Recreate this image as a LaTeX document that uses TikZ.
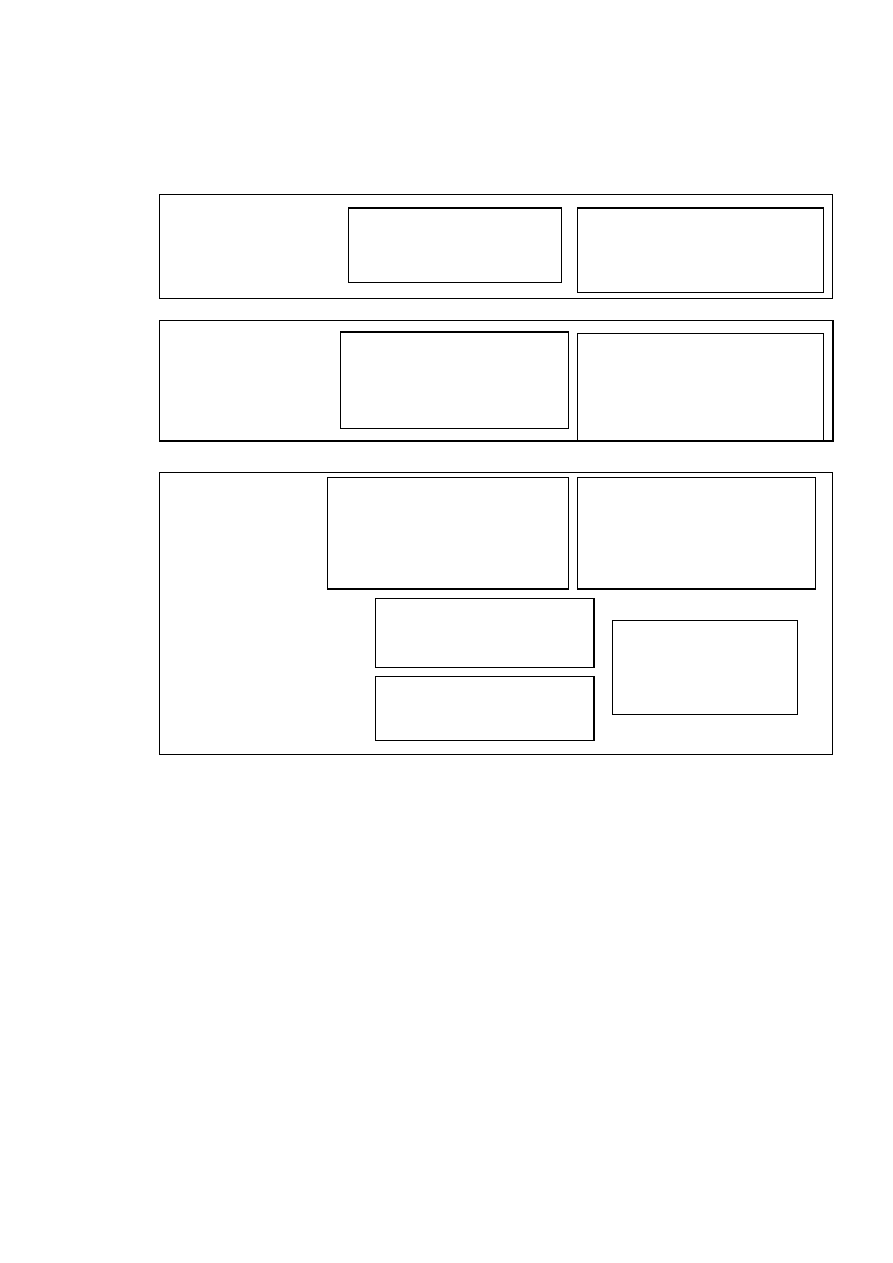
\documentclass[tikz,border=0pt]{standalone}
\begin{document}
\begin{tikzpicture}[x=1pt,y=-1pt,
  box/.style={draw=black,line width=1pt,rectangle,inner sep=0pt,anchor=north west},
  heavy/.style={draw=black,line width=2.2pt}]
\useasboundingbox[fill=white] (0,0) rectangle (893,1263);
\newcommand{\bx}[5]{\node[box,minimum width={#4-#2},minimum height={#5-#3}] (#1) at (#2,#3) {};}
% group 1
\bx{g1}{159}{194}{832}{298}
\bx{a1}{348}{208}{561}{282}
\bx{b1}{577}{208}{823}{292}
\draw[heavy] (a1.north west) -- (a1.north east);
\draw[heavy] (b1.north west) -- (b1.north east);
% group 2
\bx{g2}{159}{320}{832}{440}
\bx{a2}{340}{332}{568}{428}
\bx{b2}{577}{333}{823}{440}
\draw[heavy] (g2.south west) -- (g2.south east) -- (g2.north east);
\draw[heavy] (a2.north west) -- (a2.north east);
% group 3
\bx{g3}{159}{472}{832}{754}
\bx{a3}{327}{477}{568}{588}
\bx{b3}{577}{477}{815}{588}
\draw[heavy] (a3.south west) -- (a3.south east);
\draw[heavy] (b3.south west) -- (b3.south east);
\bx{c3}{375}{598}{593}{667}
\bx{d3}{375}{676}{593}{740}
\draw[heavy] (c3.north east) -- (c3.south east);
\draw[heavy] (d3.north east) -- (d3.south east);
\bx{e3}{612}{620}{797}{714}
\end{tikzpicture}
\end{document}
